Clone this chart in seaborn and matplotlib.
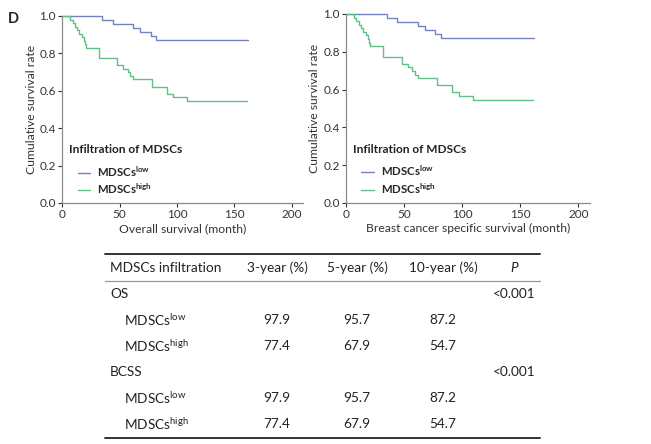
import numpy as np
import pandas as pd
import matplotlib
matplotlib.use("Agg")
import matplotlib.pyplot as plt
from matplotlib.lines import Line2D
import seaborn as sns

# ---- data ----
low_n = 47
low_event_months = [35, 44, 62, 68, 77, 82]
low_last_followup = 162

high_n = 53
high_event_months = [7, 9, 11, 13, 15, 17, 19, 20, 21, 32, 32, 32,
                     48, 48, 53, 57, 59, 62, 78, 78, 91, 91, 97, 109]
high_last_followup = 161

group_labels = ["MDSCs$^{\\mathbf{low}}$", "MDSCs$^{\\mathbf{high}}$"]
group_colors = ["#7582bb", "#5fc184"]

panel_xlabels = ["Overall survival (month)",
                 "Breast cancer specific survival (month)"]

table_header = ["MDSCs infiltration", "3-year (%)", "5-year (%)", "10-year (%)", "P"]
table_sections = ["OS", "BCSS"]
table_pvalues = ["<0.001", "<0.001"]
table_subrows = ["MDSCs$^{\\mathrm{low}}$", "MDSCs$^{\\mathrm{high}}$"]
rates_low = ["97.9", "95.7", "87.2"]
rates_high = ["77.4", "67.9", "54.7"]


def km_steps(n, events, last):
    times = sorted(set(events))
    t = [0]
    s = [1.0]
    at_risk = n
    for tm in times:
        d = events.count(tm)
        at_risk -= d
        t.append(tm)
        s.append(at_risk / n)
    t.append(last)
    s.append(s[-1])
    return pd.DataFrame({"month": t, "survival": s})


sns.set_style("ticks")
plt.rcParams["font.family"] = ["Lato", "DejaVu Sans"]
plt.rcParams["mathtext.fontset"] = "custom"
plt.rcParams["mathtext.rm"] = "Lato"
plt.rcParams["mathtext.bf"] = "Lato:bold"

fig = plt.figure(figsize=(6.51, 4.44), dpi=100)

curves = [km_steps(low_n, low_event_months, low_last_followup),
          km_steps(high_n, high_event_months, high_last_followup)]

axes_rects = [[0.0957, 0.5428, 0.3697, 0.4212],
              [0.5315, 0.5428, 0.3748, 0.4257]]

for rect, xlabel in zip(axes_rects, panel_xlabels):
    ax = fig.add_axes(rect)
    for df, col in zip(curves, group_colors):
        sns.lineplot(data=df, x="month", y="survival", ax=ax, color=col,
                     drawstyle="steps-post", estimator=None, sort=False,
                     linewidth=1.0, clip_on=False)
    ax.set_xlim(0, 210)
    ax.set_ylim(0, 1.0)
    ax.set_xticks([0, 50, 100, 150, 200])
    ax.set_yticks(np.arange(0, 1.01, 0.2))
    ax.set_yticklabels([f"{v:.1f}" for v in np.arange(0, 1.01, 0.2)])
    ax.set_xlabel(xlabel, fontsize=8.7, color="#333333", labelpad=2)
    ax.set_ylabel("Cumulative survival rate", fontsize=8.7, color="#333333", labelpad=2)
    ax.tick_params(labelsize=8.5, colors="#333333", length=3, width=0.8, pad=1.5)
    for side in ["left", "bottom"]:
        ax.spines[side].set_color("#8a8a8a")
        ax.spines[side].set_linewidth(0.9)
    sns.despine(ax=ax)
    ax.text(0.028, 0.285, "Infiltration of MDSCs", transform=ax.transAxes,
            fontsize=8.6, fontweight="bold", color="#222222", va="center")
    handles = [Line2D([], [], color=c, linewidth=1.0) for c in group_colors]
    ax.legend(handles, group_labels,
              loc="upper left", bbox_to_anchor=(0.035, 0.245), frameon=False,
              prop={"weight": "bold", "size": 8.2},
              handlelength=1.1, handletextpad=0.6,
              labelspacing=0.3, borderaxespad=0.2)

fig.text(0.012, 0.972, "D", fontsize=10.5, fontweight="bold", va="top")

# ---- table ----
tab = fig.add_axes([0, 0, 1, 1])
tab.set_xlim(0, 651)
tab.set_ylim(444, 0)
tab.axis("off")

x_left, x_right = 105, 540
col_x = [110, 277, 357, 443, 514]
tab.plot([x_left, x_right], [254, 254], color="#333333", linewidth=1.4)
tab.plot([x_left, x_right], [281, 281], color="#999999", linewidth=0.9)
tab.plot([x_left, x_right], [437.5, 437.5], color="#333333", linewidth=1.4)

fs = 9.8
for i, h in enumerate(table_header):
    ha = "left" if i == 0 else "center"
    style = "italic" if h == "P" else "normal"
    tab.text(col_x[i], 267.5, h, fontsize=fs, ha=ha, va="center",
             style=style, color="#222222")

row_y = [[293.5, 319.5, 345.5], [371.5, 397.5, 423.5]]
for sec, pval, ys in zip(table_sections, table_pvalues, row_y):
    tab.text(col_x[0], ys[0], sec, fontsize=fs, ha="left", va="center", color="#222222")
    tab.text(col_x[4], ys[0], pval, fontsize=fs, ha="center", va="center", color="#222222")
    for lab, rates, y in zip(table_subrows, [rates_low, rates_high], ys[1:]):
        tab.text(124, y, lab, fontsize=fs, ha="left", va="center", color="#222222")
        for j, r in enumerate(rates):
            tab.text(col_x[j + 1], y, r, fontsize=fs, ha="center", va="center",
                     color="#222222")

fig.savefig("out.png", dpi=100)
